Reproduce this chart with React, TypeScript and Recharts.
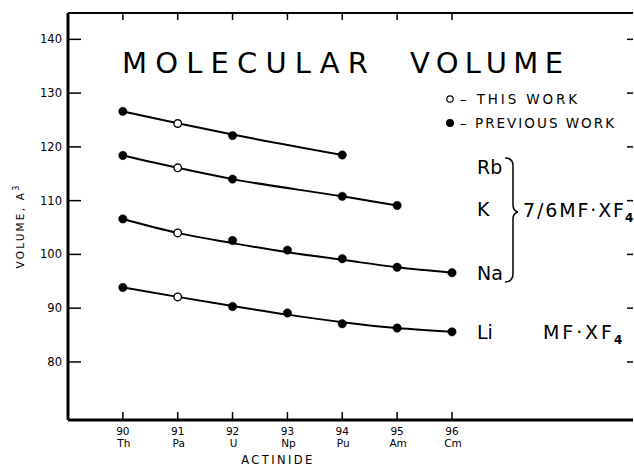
import React from 'react';
import { LineChart, Line, XAxis, YAxis } from 'recharts';

const actinideNumbers = [90, 91, 92, 93, 94, 95, 96];
const actinideSymbols = ['Th', 'Pa', 'U', 'Np', 'Pu', 'Am', 'Cm'];
const yTicks = [80, 90, 100, 110, 120, 130, 140];

const rbValues = [126.6, 124.35, 122.1, null, 118.5, null, null];
const kValues = [118.4, 116.1, 114.0, null, 110.8, 109.1, null];
const naValues = [106.6, 104.0, 102.6, 100.8, 99.2, 97.6, 96.6];
const liValues = [93.85, 92.1, 90.3, 89.1, 87.1, 86.3, 85.6];

// smooth drawn curves (at each actinide)
const rbCurve = [126.6, 124.4, 122.3, null, 118.5, null, null];
const kCurve = [118.4, 116.1, 114.0, null, 110.8, 109.1, null];
const naCurve = [106.6, 104.0, 102.1, 100.4, 99.0, 97.6, 96.6];
const liCurve = [93.85, 92.1, 90.4, 88.8, 87.4, 86.3, 85.6];

// actinides measured in "this work" (open circles)
const thisWorkSymbols = ['Pa'];

const data = actinideNumbers.map((z, i) => ({
  z,
  sym: actinideSymbols[i],
  rb: rbValues[i],
  k: kValues[i],
  na: naValues[i],
  li: liValues[i],
  rbC: rbCurve[i],
  kC: kCurve[i],
  naC: naCurve[i],
  liC: liCurve[i],
}));

const FONT = '"DejaVu Sans", sans-serif';

const BottomTick = (props: any) => {
  const { x, y, payload } = props;
  const i = actinideNumbers.indexOf(payload.value);
  return (
    <g>
      <line x1={x} x2={x} y1={y} y2={y - 8} stroke="#000" strokeWidth={1.5} />
      <text x={x} y={y + 15} textAnchor="middle" fontSize={10.5} fontFamily={FONT} fill="#000">
        {payload.value}
      </text>
      <text x={x + 1} y={y + 27} textAnchor="middle" fontSize={10.5} fontFamily={FONT} fill="#000">
        {actinideSymbols[i]}
      </text>
    </g>
  );
};

const TopTick = (props: any) => {
  const { x, y } = props;
  return <line x1={x} x2={x} y1={y} y2={y + 7} stroke="#000" strokeWidth={1.5} />;
};

const LeftTick = (props: any) => {
  const { x, y, payload } = props;
  return (
    <g>
      <line x1={x} x2={x + 13} y1={y} y2={y} stroke="#000" strokeWidth={1.5} />
      <text x={x - 6} y={y + 4} textAnchor="end" fontSize={11.5} fontFamily={FONT} fill="#000">
        {payload.value}
      </text>
    </g>
  );
};

const RightTick = (props: any) => {
  const { x, y } = props;
  return <line x1={x - 6} x2={x} y1={y} y2={y} stroke="#000" strokeWidth={1.5} />;
};

const renderDot = (props: any) => {
  const { cx, cy, payload, value, index, dataKey } = props;
  const key = `${dataKey}-${index}`;
  if (value == null || cx == null || cy == null || isNaN(cy)) return <g key={key} />;
  const open = thisWorkSymbols.includes(payload.sym);
  return open ? (
    <circle key={key} cx={cx} cy={cy} r={3.8} fill="#fff" stroke="#000" strokeWidth={1.4} />
  ) : (
    <circle key={key} cx={cx} cy={cy} r={4.2} fill="#000" stroke="#000" strokeWidth={0.5} />
  );
};

const seriesKeys = ['rb', 'k', 'na', 'li'];

export default function App() {
  return (
    <div style={{ position: 'absolute', left: 0, top: 0, width: 634, height: 472, background: '#fff' }}>
      <LineChart
        width={634}
        height={472}
        data={data}
        margin={{ top: 12, right: 0, bottom: 51, left: 67 }}
      >
        <XAxis
          xAxisId="b"
          dataKey="z"
          type="number"
          orientation="bottom"
          domain={[89, 99.3]}
          ticks={actinideNumbers}
          interval={0}
          allowDataOverflow
          height={1}
          tickSize={0}
          tickMargin={0}
          tickLine={false}
          axisLine={{ stroke: '#000', strokeWidth: 3 }}
          tick={<BottomTick />}
        />
        <XAxis
          xAxisId="t"
          dataKey="z"
          type="number"
          orientation="top"
          domain={[89, 99.3]}
          ticks={actinideNumbers}
          interval={0}
          allowDataOverflow
          height={1}
          tickSize={0}
          tickMargin={0}
          tickLine={false}
          axisLine={{ stroke: '#000', strokeWidth: 2 }}
          tick={<TopTick />}
        />
        <YAxis
          yAxisId="l"
          type="number"
          orientation="left"
          domain={[69.2, 144.9]}
          ticks={yTicks}
          interval={0}
          allowDataOverflow
          width={1}
          tickSize={0}
          tickMargin={0}
          tickLine={false}
          axisLine={{ stroke: '#000', strokeWidth: 3 }}
          tick={<LeftTick />}
        />
        <YAxis
          yAxisId="r"
          type="number"
          orientation="right"
          domain={[69.2, 144.9]}
          ticks={yTicks}
          interval={0}
          allowDataOverflow
          width={1}
          tickSize={0}
          tickMargin={0}
          tickLine={false}
          axisLine={false}
          tick={<RightTick />}
        />
        {seriesKeys.map((k) => (
          <Line
            key={`${k}-curve`}
            xAxisId="b"
            yAxisId="l"
            dataKey={`${k}C`}
            type="monotone"
            stroke="#000"
            strokeWidth={2}
            connectNulls
            dot={false}
            activeDot={false}
            isAnimationActive={false}
          />
        ))}
        {seriesKeys.map((k) => (
          <Line
            key={`${k}-pts`}
            xAxisId="b"
            yAxisId="l"
            dataKey={k}
            stroke="none"
            connectNulls
            dot={renderDot}
            activeDot={false}
            isAnimationActive={false}
          />
        ))}
      </LineChart>
      <svg
        width={634}
        height={472}
        style={{ position: 'absolute', left: 0, top: 0, pointerEvents: 'none' }}
        fontFamily={FONT}
      >
        <text x={122} y={73} fontSize={29} textLength={246} lengthAdjust="spacing" fill="#000">
          MOLECULAR
        </text>
        <text x={410} y={73} fontSize={29} textLength={153} lengthAdjust="spacing" fill="#000">
          VOLUME
        </text>

        <circle cx={450} cy={99} r={3.2} fill="#fff" stroke="#000" strokeWidth={1.2} />
        <text x={460} y={104} fontSize={13.5} textLength={117} lengthAdjust="spacing" fill="#000">
          – THIS WORK
        </text>
        <circle cx={450} cy={123} r={4} fill="#000" />
        <text x={460} y={128} fontSize={13.5} textLength={154} lengthAdjust="spacing" fill="#000">
          – PREVIOUS WORK
        </text>

        <text x={477} y={174} fontSize={19} fill="#000">Rb</text>
        <text x={477} y={216} fontSize={19} fill="#000">K</text>
        <text x={477} y={280} fontSize={19} fill="#000">Na</text>
        <text x={477} y={339} fontSize={19} fill="#000">Li</text>

        <path
          d="M 505 158 Q 513 158 513 166 L 513 205 Q 513 211 518 212 Q 513 213 513 219 L 513 273 Q 513 282 505 282"
          fill="none"
          stroke="#000"
          strokeWidth={1.5}
        />
        <text x={523} y={217} fontSize={19} textLength={101} lengthAdjust="spacing" fill="#000">
          7/6MF·XF
        </text>
        <text x={625} y={222} fontSize={12} fontWeight="bold" fill="#000">4</text>

        <text x={543} y={339} fontSize={19} textLength={69} lengthAdjust="spacing" fill="#000">
          MF·XF
        </text>
        <text x={614} y={344} fontSize={12} fontWeight="bold" fill="#000">4</text>

        <g transform="translate(24,226) rotate(-90)">
          <text x={0} y={0} textAnchor="middle" fontSize={10.5} letterSpacing={2.2} fill="#000">
            VOLUME, A<tspan dy={-5} fontSize={8}>3</tspan>
          </text>
        </g>
        <text x={278} y={464} textAnchor="middle" fontSize={11.5} letterSpacing={2.4} fill="#000">
          ACTINIDE
        </text>
      </svg>
    </div>
  );
}
